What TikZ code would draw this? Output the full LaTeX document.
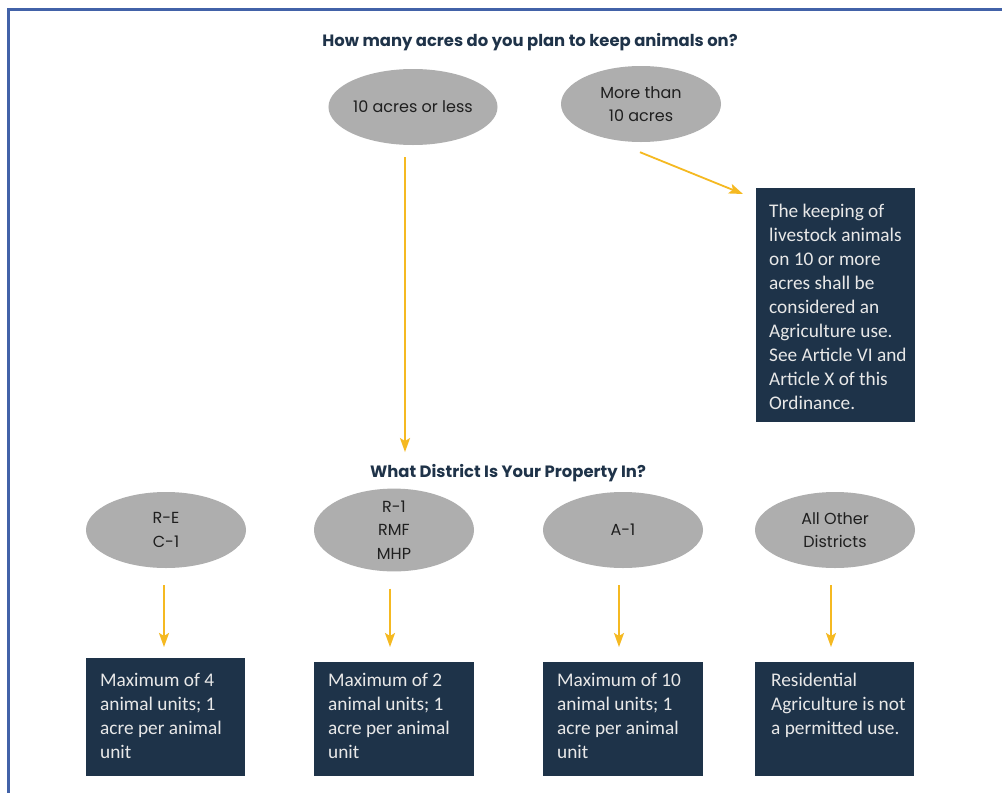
\documentclass[tikz,border=0pt]{standalone}
\usepackage{fontspec}
\setmainfont{Carlito}
\newfontfamily\gothic{Poppins}
\usetikzlibrary{arrows.meta,shapes.geometric}
\definecolor{navy}{HTML}{1E3349}
\definecolor{gold}{HTML}{F5B921}
\definecolor{ovalgray}{HTML}{AEAEAE}
\definecolor{framecol}{HTML}{4262A8}
\definecolor{boxtext}{HTML}{E8E8E8}
\definecolor{titlecol}{HTML}{1F3349}
\newcommand\bxt[5]{\hspace*{#4}\parbox[c][#1][t]{#2}{\fontsize{19.3}{24}\selectfont\raggedright\rule{0pt}{#3}#5}}
\begin{document}
\begin{tikzpicture}[x=1pt,y=-1pt,
  oval/.style={ellipse, fill=ovalgray, minimum width=160pt, minimum height=76pt,
    inner sep=0pt, align=center, text=black!88,
    font=\gothic\fontsize{16}{23.5}\selectfont},
  qtitle/.style={inner sep=0pt, text=titlecol, font=\gothic\bfseries\fontsize{16.4}{18}\selectfont},
  infobox/.style={rectangle, fill=navy, inner sep=0pt, text=boxtext, anchor=north west},
  arr/.style={draw=gold, line width=1.8pt, -{Stealth[length=14pt,width=10pt,inset=3pt]}}
]
\useasboundingbox (0,0) rectangle (1002,793);
\fill[white] (0,0) rectangle (1002,793);
\draw[framecol, line width=3pt] (8,793) -- (8,9.5) -- (1002,9.5);

\node[qtitle] (q1) at (530,42) {How many acres do you plan to keep animals on?};
\node[oval] (e1) at (413,107) {10 acres or less};
\node[oval] (e2) at (641,104) {More than\\10 acres};
\node[infobox] (big) at (756,188) {\bxt{234pt}{146pt}{29pt}{13pt}{The keeping of\\livestock animals\\on 10 or more\\acres shall be\\considered an\\Agriculture use.\\See Article VI and\\Article X of this\\Ordinance.}};

\node[qtitle] (q2) at (508,473) {What District Is Your Property In?};
\node[oval] (r1) at (166,530) {R-E\\C-1};
\node[oval] (r2) at (394,530) {R-1\\RMF\\MHP};
\node[oval] (r3) at (623,530) {A-1};
\node[oval] (r4) at (835,530) {All Other\\Districts};

\node[infobox] (b1) at (86,658) {\bxt{118pt}{145pt}{28pt}{14pt}{Maximum of 4\\animal units; 1\\acre per animal\\unit}};
\node[infobox] (b2) at (314,662) {\bxt{114pt}{146pt}{24pt}{14pt}{Maximum of 2\\animal units; 1\\acre per animal\\unit}};
\node[infobox] (b3) at (543,662) {\bxt{114pt}{146pt}{24pt}{14pt}{Maximum of 10\\animal units; 1\\acre per animal\\unit}};
\node[infobox] (b4) at (755,662) {\bxt{114pt}{143pt}{24pt}{16pt}{Residential\\Agriculture is not\\a permitted use.}};

\draw[arr] ([xshift=-8pt,yshift=-12pt]e1.south) -- ([xshift=-103pt,yshift=12pt]q2.north);
\draw[arr] ([xshift=-1pt,yshift=-10pt]e2.south) -- ([xshift=-13pt,yshift=-6pt]big.north west);
\draw[arr] ([xshift=-2pt,yshift=-17pt]r1.south) -- ([xshift=-2pt,yshift=11pt]r1.south |- b1.north);
\draw[arr] ([xshift=-4pt,yshift=-17pt]r2.south) -- ([xshift=-4pt,yshift=15pt]r2.south |- b2.north);
\draw[arr] ([xshift=-4pt,yshift=-17pt]r3.south) -- ([xshift=-4pt,yshift=15pt]r3.south |- b3.north);
\draw[arr] ([xshift=-4pt,yshift=-17pt]r4.south) -- ([xshift=-4pt,yshift=15pt]r4.south |- b4.north);
\end{tikzpicture}
\end{document}
